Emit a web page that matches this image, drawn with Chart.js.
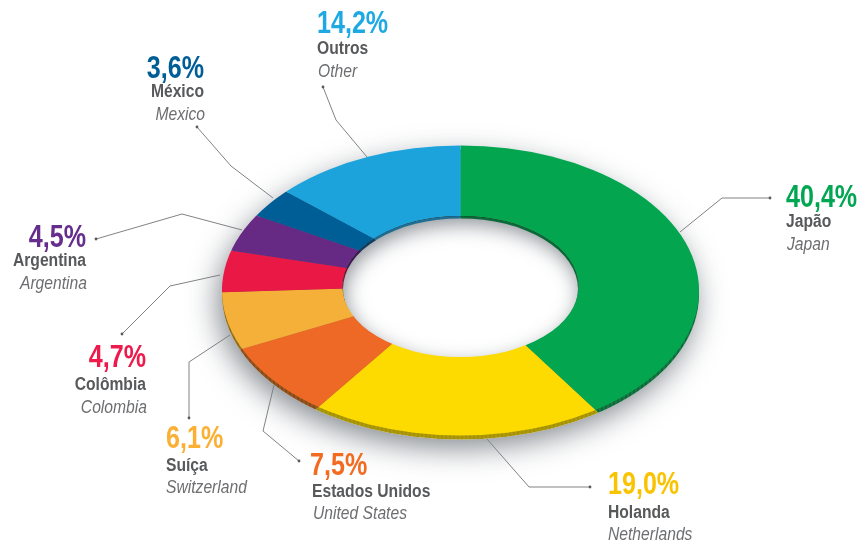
<!DOCTYPE html>
<html><head><meta charset="utf-8">
<style>html,body{margin:0;padding:0;background:#fff}canvas{display:block}</style>
<script src="https://cdn.jsdelivr.net/npm/chart.js@4"></script>
</head><body>
<canvas id="c" width="859" height="544"></canvas>
<script>
const namesPt = ['Japão','Holanda','Estados Unidos','Suíça','Colômbia','Argentina','México','Outros'];
const namesEn = ['Japan','Netherlands','United States','Switzerland','Colombia','Argentina','Mexico','Other'];
const shares  = [40.4,19.0,7.5,6.1,4.7,4.5,3.6,14.2];
const sliceColors = ['#03A64F','#FDDA00','#EE6925','#F5B03A','#EA1845','#662A85','#005E97','#1CA3DC'];
const rimColors   = ['#0B6B38','#A69200','#8A4A14','#8F6A14','#7A1030','#3A1A50','#123E5E','#1F6F94'];
const labelColors = ['#00A651','#F9C300','#F26B21','#FBB034','#ED1A4B','#662D8C','#005E97','#1FA9E3'];
// label layout: anchor x, alignment, baselines of the three lines
const labelX     = [786,608,310,166,146,86,204,317];
const labelAlign = ['left','left','left','left','right','right','right','left'];
const labelNameDx= [0,0,2,0,0,0,0,0];
const labelItalDx= [1,0,3,0,1,1,1,1];
const labelY = [[207,227,250],[494,518,540],[475,497,519],[448,471,493],[367,390,413],[247,266,289],[78,97,120],[33,54,77]];
const leaders = [
 [[770,198],[722,198],[680,232]],
 [[590,487],[529,487],[487,439]],
 [[299,461],[263,431],[274,385]],
 [[189,418],[189,362],[230,335]],
 [[122,334],[170,286],[220,275]],
 [[96,239],[182,214],[242,230]],
 [[197,127],[231,166],[273,198]],
 [[323,87],[336,120],[367,157]]
];
const cutoutPct = 38;

const G = {cx:460.5, cy:285, sx:280, sy:170, shear:0.046, // projected disc used for slices
           ox:460.5, oy:290.5, orx:238.5, ory:145, // outer visible edge
           hx:460.5, hy:286.5, hrx:118, hry:70.5,  // hole edge
           depth:4};

function ell(ctx,x,y,rx,ry){ctx.beginPath();ctx.ellipse(x,y,rx,ry,0,0,Math.PI*2);}

const disc3d = {
  id:'disc3d',
  beforeDatasetsDraw(chart){
    const ctx = chart.ctx, arcs = chart.getDatasetMeta(0).data;
    const R = arcs[0].outerRadius, x0 = arcs[0].x, y0 = arcs[0].y;
    const drawArcs = (colors, solid) => {
      ctx.save();
      ctx.translate(G.cx,G.cy); ctx.transform(1,G.shear,0,1,0,0); ctx.scale(G.sx/R,G.sy/R); ctx.translate(-x0,-y0);
      arcs.forEach((a,i)=>{
        const oo=a.options, oi=a.innerRadius;
        if(colors) a.options = Object.assign({},oo,{backgroundColor:colors[i]});
        if(solid) a.innerRadius = 0;
        a.draw(ctx);
        a.options=oo; a.innerRadius=oi;
      });
      ctx.restore();
    };
    // soft drop shadow under the disc
    ctx.save();
    ctx.shadowColor='rgba(45,55,65,0.6)'; ctx.shadowBlur=30; ctx.shadowOffsetY=8; ctx.shadowOffsetX=-4;
    ctx.fillStyle='#fff';
    ell(ctx,G.ox,G.oy+G.depth,G.orx,G.ory); ctx.fill();
    ctx.restore();
    // outer rim
    ctx.save();
    ell(ctx,G.ox,G.oy+G.depth,G.orx,G.ory); ctx.clip();
    drawArcs(rimColors,true);
    ctx.fillStyle='rgba(255,255,255,0.07)';
    for(let x=215;x<710;x+=4) ctx.fillRect(x,130,2,320);
    ctx.restore();
    // top surface
    ctx.save();
    ell(ctx,G.ox,G.oy,G.orx,G.ory); ctx.clip();
    drawArcs(null,true);
    ctx.restore();
    // hole: inner shadow then inner rim
    ctx.save();
    ell(ctx,G.hx,G.hy,G.hrx,G.hry); ctx.clip();
    ctx.fillStyle='#fff'; ctx.fillRect(300,180,320,220);
    ctx.shadowColor='rgba(45,55,65,0.55)'; ctx.shadowBlur=20; ctx.shadowOffsetY=7; ctx.shadowOffsetX=2;
    ctx.fillStyle='#000';
    ctx.beginPath(); ctx.rect(200,100,520,400);
    ctx.ellipse(G.hx,G.hy+1,G.hrx,G.hry,0,0,Math.PI*2);
    ctx.fill('evenodd');
    ctx.restore();
    ctx.save();
    ell(ctx,G.hx,G.hy,G.hrx,G.hry); ctx.clip();
    ctx.beginPath(); ctx.rect(200,100,520,400);
    ctx.ellipse(G.hx,G.hy+2.5,G.hrx-0.5,G.hry,0,0,Math.PI*2);
    ctx.clip('evenodd');
    drawArcs(rimColors,true);
    ctx.restore();
    return false;
  },
  afterDraw(chart){
    const ctx = chart.ctx;
    ctx.save();
    leaders.forEach(pts=>{
      ctx.strokeStyle='#808285'; ctx.lineWidth=1;
      ctx.beginPath(); pts.forEach((p,i)=> i?ctx.lineTo(p[0],p[1]):ctx.moveTo(p[0],p[1])); ctx.stroke();
      ctx.fillStyle='#58595B'; ctx.beginPath(); ctx.arc(pts[0][0],pts[0][1],1.4,0,Math.PI*2); ctx.fill();
    });
    const fam='"Liberation Sans",sans-serif';
    const put=(s,x,y,k)=>{ctx.save();ctx.translate(x,y);ctx.scale(k,1);ctx.fillText(s,0,0);ctx.restore();};
    shares.forEach((v,i)=>{
      const [y1,y2,y3]=labelY[i]; const x=labelX[i];
      ctx.textAlign=labelAlign[i]; ctx.textBaseline='alphabetic';
      ctx.fillStyle=labelColors[i]; ctx.font='bold 31px '+fam;
      put(v.toFixed(1).replace('.',',')+'%',x,y1,0.81);
      ctx.fillStyle='#58595B'; ctx.font='bold 18px '+fam;
      put(namesPt[i],x+labelNameDx[i],y2,0.87);
      ctx.fillStyle='#6D6E71'; ctx.font='italic 18px '+fam;
      put(namesEn[i],x+labelItalDx[i],y3,0.87);
    });
    ctx.restore();
  }
};

new Chart(document.getElementById('c'),{
  type:'doughnut',
  data:{labels:namesPt,datasets:[{data:shares,backgroundColor:sliceColors,borderWidth:0,spacing:0,hoverOffset:0}]},
  options:{responsive:false,animation:false,cutout:cutoutPct+'%',rotation:0,
    layout:{padding:0},plugins:{legend:{display:false},tooltip:{enabled:false}},events:[]},
  plugins:[disc3d]
});
</script>
</body></html>
